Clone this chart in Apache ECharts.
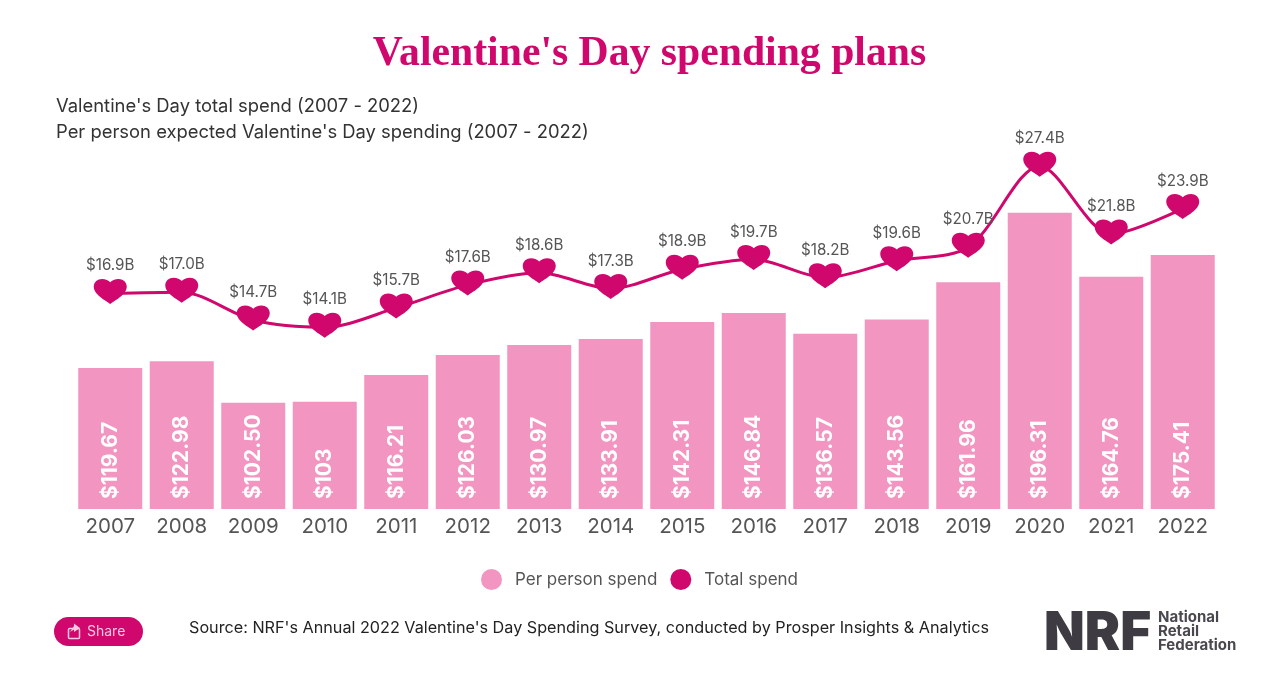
<!DOCTYPE html>
<html>
<head>
<meta charset="utf-8">
<title>Valentine's Day spending plans</title>
<style>
  html, body { margin: 0; padding: 0; background: #fff; }
  #chart { width: 1267px; height: 677px; }
</style>
<script src="https://cdn.jsdelivr.net/npm/echarts@6/dist/echarts.min.js"></script>
</head>
<body>
<div id="chart"></div>
<script>
const years = ['2007','2008','2009','2010','2011','2012','2013','2014','2015','2016','2017','2018','2019','2020','2021','2022'];
const perPerson = [119.67,122.98,102.50,103,116.21,126.03,130.97,133.91,142.31,146.84,136.57,143.56,161.96,196.31,164.76,175.41];
const perPersonLabels = ['$119.67','$122.98','$102.50','$103','$116.21','$126.03','$130.97','$133.91','$142.31','$146.84','$136.57','$143.56','$161.96','$196.31','$164.76','$175.41'];
const totalSpend = [16.9,17.0,14.7,14.1,15.7,17.6,18.6,17.3,18.9,19.7,18.2,19.6,20.7,27.4,21.8,23.9];

const PINK = '#D0076D';
const LIGHT_PINK = '#F295C0';
const FONT = 'Inter, "Open Sans", sans-serif';
const HEART = 'path://M12 20 C9.5 17.5 0 13 0 6 C0 2.4 2.8 0 6 0 C8.6 0 10.8 1 12 2.6 C13.2 1 15.4 0 18 0 C21.2 0 24 2.4 24 6 C24 13 14.5 17.5 12 20 Z';

const chart = echarts.init(document.getElementById('chart'), null, { renderer: 'canvas' });

chart.setOption({
  animation: false,
  backgroundColor: '#fff',
  textStyle: { fontFamily: FONT },
  title: [
    { text: "Valentine's Day spending plans", left: 644.5, top: 28, textAlign: 'center',
      textStyle: { fontFamily: '"Liberation Serif", serif', fontWeight: 'bold', fontSize: 41.7, color: PINK } },
    { text: "Valentine's Day total spend (2007 - 2022)", left: 51, top: 92,
      textStyle: { fontFamily: FONT, fontWeight: 'normal', fontSize: 18.4, color: '#333' } },
    { text: "Per person expected Valentine's Day spending (2007 - 2022)", left: 51, top: 118,
      textStyle: { fontFamily: FONT, fontWeight: 'normal', fontSize: 18.4, color: '#333' } },
    { text: "Source: NRF's Annual 2022 Valentine's Day Spending Survey, conducted by Prosper Insights & Analytics", left: 184, top: 615,
      textStyle: { fontFamily: FONT, fontWeight: 'normal', fontSize: 16.2, color: '#222' } }
  ],
  legend: {
    left: 476, top: 564, itemWidth: 21, itemHeight: 21, itemGap: 13,
    selectedMode: false,
    textStyle: { fontFamily: FONT, fontSize: 17, color: '#555', padding: [0, 12, 0, 8] },
    data: [
      { name: 'Per person spend', icon: 'circle' },
      { name: 'Total spend', icon: 'circle' }
    ]
  },
  grid: { left: 74.5, width: 1144, top: 102, height: 407 },
  xAxis: {
    type: 'category', data: years,
    axisLine: { show: false }, axisTick: { show: false },
    axisLabel: { fontSize: 20.5, color: '#555', margin: 7 }
  },
  yAxis: [
    { type: 'value', min: 50, max: 251, show: false, splitLine: { show: false } },
    { type: 'value', min: -0.9, max: 32.7, show: false, splitLine: { show: false } }
  ],
  series: [
    {
      name: 'Per person spend', type: 'bar', data: perPerson, yAxisIndex: 0,
      barCategoryGap: '10.5%',
      itemStyle: { color: LIGHT_PINK },
      label: {
        show: true, position: 'insideBottom', rotate: 90, align: 'left', verticalAlign: 'middle',
        distance: 10, fontFamily: FONT, fontWeight: 'bold', fontSize: 21, color: '#fff',
        formatter: p => perPersonLabels[p.dataIndex]
      }
    },
    {
      name: 'Total spend', type: 'line', data: totalSpend, yAxisIndex: 1,
      smooth: 0.3,
      symbol: HEART, symbolSize: [33, 25], symbolOffset: [0, -2],
      showAllSymbol: true,
      lineStyle: { color: PINK, width: 3 },
      itemStyle: { color: PINK },
      label: {
        show: true, position: 'top', distance: 5.5, fontFamily: FONT, fontSize: 15.2, color: '#555',
        formatter: p => '$' + p.value.toFixed(1) + 'B'
      }
    }
  ],
  graphic: [
    // share button
    { type: 'rect', left: 54, top: 617, shape: { width: 89, height: 29, r: 14.5 }, style: { fill: PINK } },
    { type: 'text', left: 87, top: 625, style: { text: 'Share', fill: '#F8C9DF', font: '14px ' + FONT } },
    { type: 'rect', left: 66, top: 626, shape: { width: 11, height: 10, r: 1 }, style: { fill: 'none', stroke: '#F8C9DF', lineWidth: 1.5 } },
    { type: 'polygon', shape: { points: [[70, 632], [74, 626], [74, 623.5], [80, 628], [74, 632], [74, 629.5]] }, style: { fill: '#F8C9DF' } },
    // NRF logo
    { type: 'text', left: 1044, top: 608, style: { text: 'NRF', fill: '#3E3C42', font: '900 53px Inter, sans-serif' } },
    { type: 'text', left: 1158, top: 610, style: { text: 'National', fill: '#4A484E', font: 'bold 15px Inter, sans-serif' } },
    { type: 'text', left: 1158, top: 624, style: { text: 'Retail', fill: '#4A484E', font: 'bold 15px Inter, sans-serif' } },
    { type: 'text', left: 1158, top: 638, style: { text: 'Federation', fill: '#4A484E', font: 'bold 15px Inter, sans-serif' } }
  ]
});
</script>
</body>
</html>
